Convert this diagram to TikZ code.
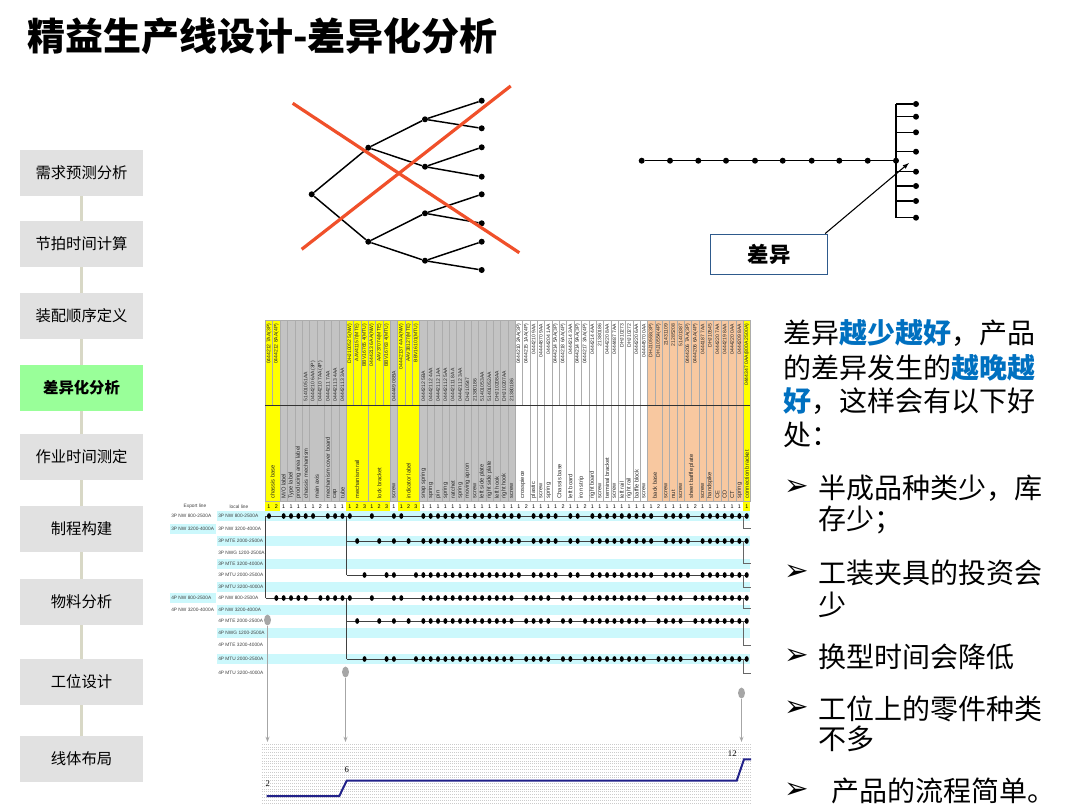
\documentclass[tikz,border=0pt]{standalone}
\usepackage{fontspec}
\setmainfont{Noto Sans CJK SC}
\newfontfamily\lat{Liberation Sans}
\newfontfamily\ser{Liberation Serif}
\newfontfamily\dv{DejaVu Sans}
\usetikzlibrary{arrows.meta,shapes.geometric}
\definecolor{sidegray}{HTML}{E1E1E1}
\definecolor{sideline}{HTML}{D8D8C6}
\definecolor{sidegreen}{HTML}{99FF99}
\definecolor{boxblue}{HTML}{2E5A8C}
\definecolor{txtblue}{HTML}{0070C0}
\definecolor{xred}{HTML}{F0502A}
\definecolor{hy}{HTML}{FFFF00}
\definecolor{hg}{HTML}{C3C3C3}
\definecolor{hw}{HTML}{FFFFFF}
\definecolor{ho}{HTML}{F8C8A0}
\definecolor{cy}{HTML}{CCF8FC}
\definecolor{navy}{HTML}{22228A}
\definecolor{pin}{HTML}{A6A6A6}
\def\TBx{265.3}
\def\TBw{7.35}
\newcommand\hlt[1]{{\bfseries\color{txtblue}#1}}
\newcommand\BOMrow[3]{\foreach \i in {#3}{\node[bomdot] (d#1-\i) at ({\TBx+(\i+0.5)*\TBw},#2) {};}}
\def\cmn{21,22,23,24,25,26,27,28,29,30,31,32,33}
\def\pA{34,36,37,38,39,41,42,44,45,46,47,48,49,50,51,52,54,55,56,57,59,60,61,62,63,64,65}
\def\pB{35,36,37,38,40,41,43,44,45,46,47,48,49,50,51,53,54,55,56,58,59,60,61,62,63,64,65}
\def\preNWa{0,2,3,4,5,6,8,9,10,11,14,17,18}
\def\preNWb{1,2,3,4,5,7,8,9,10,11,14,17,18}
\def\preMTE{12,15,17,19}
\def\preMTU{13,16,17,20}
\tikzset{
  sidebox/.style={fill=sidegray, minimum width=92.25pt, minimum height=34.5pt, inner sep=0pt, font=\fontsize{11.5}{12}\selectfont},
  sideact/.style={sidebox, fill=sidegreen, font=\fontsize{11.5}{12}\selectfont\bfseries},
  sidelink/.style={draw=sideline, line width=2.2pt},
  tdot/.style={circle, fill=black, inner sep=0pt, minimum size=4.5pt},
  treeline/.style={line width=1.1pt, draw=black},
  redx/.style={line width=2.4pt, draw=xred},
  diffbox/.style={draw=boxblue, line width=1.1pt, fill=white, minimum width=87.5pt, minimum height=30pt, inner sep=0pt, font=\fontsize{16}{16}\selectfont\bfseries},
  callout/.style={line width=0.8pt, draw=black, -{Latex[length=5pt,width=3.5pt]}},
  colline/.style={draw=gray!65, line width=0.25pt},
  rulel/.style={draw=gray!40!black, line width=0.45pt},
  pnum/.style={rotate=90, inner sep=0.3pt, font=\fontsize{3.8}{3.8}\selectfont\lat, text=black!85},
  pname/.style={rotate=90, anchor=west, inner sep=0.3pt, font=\fontsize{4.3}{4.3}\selectfont\lat, text=black!85},
  idx/.style={inner sep=0pt, font=\fontsize{4}{4}\selectfont\lat},
  rowlbl/.style={anchor=west, inner sep=0pt, font=\fontsize{3.6}{3.6}\selectfont\lat, text=black!75},
  bomdot/.style={ellipse, fill=black, inner sep=0pt, minimum width=3pt, minimum height=4.3pt},
  flow/.style={draw=black!75, line width=0.6pt},
  pinhead/.style={ellipse, fill=pin, inner sep=0pt, minimum width=5.2pt, minimum height=8.2pt},
  pinline/.style={draw=pin, line width=0.8pt, -{Stealth[length=4pt,width=3pt]}},
  gridl/.style={draw=gray!40, line width=0.35pt, dash pattern=on 0.75pt off 0.75pt},
  navyline/.style={draw=navy, line width=1.5pt},
  chartlbl/.style={inner sep=0pt, font=\fontsize{6.5}{6.5}\selectfont\ser},
  rtxt/.style={anchor=west, inner sep=0pt, font=\fontsize{21}{21}\selectfont},
  bul/.style={anchor=west, inner sep=0pt, font=\fontsize{22}{22}\selectfont\dv},
}
\begin{document}
\begin{tikzpicture}[x=0.75pt,y=-0.75pt]
\fill[white] (0,0) rectangle (1080,807);
\useasboundingbox (0,0) rectangle (1080,807);

% ---------- title ----------
\node[anchor=west, inner sep=0pt, font=\fontsize{28.5}{28.5}\selectfont\bfseries] (title) at (27,36) {精益生产线设计-差异化分析};

% ---------- sidebar ----------
\node[sidebox] (s1) at (81.5,173) {需求预测分析};
\node[sidebox] (s2) at (81.5,244) {节拍时间计算};
\node[sidebox] (s3) at (81.5,316) {装配顺序定义};
\node[sideact] (s4) at (81.5,388) {差异化分析};
\node[sidebox] (s5) at (81.5,457) {作业时间测定};
\node[sidebox] (s6) at (81.5,529) {制程构建};
\node[sidebox] (s7) at (81.5,602) {物料分析};
\node[sidebox] (s8) at (81.5,682) {工位设计};
\node[sidebox] (s9) at (81.5,759) {线体布局};
\foreach \a/\b in {s1/s2,s2/s3,s3/s4,s4/s5,s5/s6,s6/s7,s7/s8,s8/s9}
  \draw[sidelink] (\a.south) -- (\b.north);

% ---------- left tree ----------
\node[tdot] (r) at (311.7,194.3) {};
\node[tdot] (a) at (368.3,147.7) {};
\node[tdot] (b) at (368.3,241.7) {};
\node[tdot] (a1) at (425,119.3) {};
\node[tdot] (a2) at (425,166.7) {};
\node[tdot] (b1) at (425,213.3) {};
\node[tdot] (b2) at (425,260.7) {};
\foreach \i/\y in {1/100.7,2/128.3,3/147.3,4/176.7,5/194.3,6/223.3,7/241.7,8/270}
  \node[tdot] (lv\i) at (481.7,\y) {};
\draw[treeline] (a) -- (r) -- (b);
\draw[treeline] (a1) -- (a) -- (a2);
\draw[treeline] (b1) -- (b) -- (b2);
\draw[treeline] (lv1) -- (a1) -- (lv2);
\draw[treeline] (lv3) -- (a2) -- (lv4);
\draw[treeline] (lv5) -- (b1) -- (lv6);
\draw[treeline] (lv7) -- (b2) -- (lv8);
\coordinate (xa1) at (292.7,103.3);
\coordinate (xa2) at (519.3,252.7);
\coordinate (xb1) at (301.7,249.3);
\coordinate (xb2) at (510.7,86);
\draw[redx] (xa1) -- (xa2);
\draw[redx] (xb1) -- (xb2);

% ---------- right tree ----------
\foreach \i/\x in {1/641.7,2/670,3/698.3,4/726,5/755,6/782.7,7/811.7,8/839.3,9/867.7,10/896}
  \node[tdot] (h\i) at (\x,160.7) {};
\draw[treeline] (h1) -- (h10);
\coordinate (vt) at (896,104);
\coordinate (vb) at (896,217.7);
\draw[treeline] (vt) -- (vb);
\foreach \i/\y in {1/104,2/116.7,3/132.3,4/151.7,5/171.7,6/186,7/201,8/217.7}{
  \coordinate (bj\i) at (896,\y);
  \node[tdot] (lf\i) at (916,\y) {};
  \draw[treeline] (bj\i) -- (lf\i);
}
\node[diffbox] (diff) at (769,254.3) {差异};
\coordinate (ctip) at (909.3,162.7);
\draw[callout] ([xshift=-2.2pt]diff.north east) -- (ctip);

% ---------- table header ----------
\foreach \s/\n/\c/\nc/\nm in {
 0/2/hy/hy/chassis base, 2/1/hg/hw/{M/O label}, 3/1/hg/hw/Type label, 4/1/hg/hw/producing area label,
 5/1/hg/hw/chassis mechanism, 6/2/hg/hw/main axis, 8/1/hg/hw/mechanism cover board, 9/1/hg/hw/cap,
 10/1/hg/hw/tube, 11/3/hy/hy/mechanism rail, 14/3/hy/hy/lock bracket, 17/1/hg/hw/screw,
 18/3/hy/hy/indicator label, 21/1/hg/hw/snap spring, 22/1/hg/hw/spring, 23/1/hg/hw/pin,
 24/1/hg/hw/spring, 25/1/hg/hw/ratchet, 26/1/hg/hw/spring, 27/1/hg/hw/moving apron,
 28/1/hg/hw/screw, 29/1/hg/hw/left side plate, 30/1/hg/hw/right side plate, 31/1/hg/hw/left hook,
 32/1/hg/hw/right hook, 33/1/hg/hw/screw, 34/2/hw/hw/crosspiece, 36/1/hw/hw/plastic,
 37/1/hw/hw/screw, 38/1/hw/hw/spring, 39/2/hw/hw/Chassis base, 41/1/hw/hw/left board,
 42/2/hw/hw/iron strip, 44/1/hw/hw/right board, 45/1/hw/hw/screw, 46/1/hw/hw/terminal bracket,
 47/1/hw/hw/screw, 48/1/hw/hw/left rail, 49/1/hw/hw/right rail, 50/1/hw/hw/baffle block,
 51/1/hw/hw/screw, 52/2/ho/hw/back base, 54/1/ho/hw/screw, 55/1/ho/hw/nut, 56/1/ho/hw/screw,
 57/2/ho/hw/sheet baffle plate, 59/1/ho/hw/screw, 60/1/ho/hw/handspike, 61/1/ho/hw/CE,
 62/1/ho/hw/CD, 63/1/ho/hw/CT, 64/1/ho/hw/spring, 65/1/hy/hy/connection bracket}{
  \pgfmathsetmacro\xa{\TBx+\s*\TBw}
  \pgfmathsetmacro\xb{\TBx+(\s+\n)*\TBw}
  \pgfmathsetmacro\xm{\TBx+(\s+\n/2)*\TBw}
  \fill[\c] (\xa,320) rectangle (\xb,501.5);
  \draw[colline] (\xa,405) -- (\xa,501.5);
  \node[pname] (nm\s) at (\xm,499) {\nm};
  \foreach \k in {1,...,\n}{
    \pgfmathsetmacro\xl{\TBx+(\s+\k-1)*\TBw}
    \pgfmathsetmacro\xr{\xl+\TBw}
    \pgfmathsetmacro\xk{\xl+\TBw/2}
    \fill[\nc] (\xl,501.5) rectangle (\xr,511);
    \node[idx] (no\s-\k) at (\xk,506.3) {\k};
  }
}
\foreach \i in {0,...,66}
  \draw[colline] ({\TBx+\i*\TBw},320) -- ({\TBx+\i*\TBw},405);
\draw[colline] (750.4,405) -- (750.4,501.5);
\draw[colline] (\TBx,320) -- (750.4,320);
\draw[rulel] (\TBx,405) -- (750.4,405);
\draw[colline] (\TBx,501.5) -- (750.4,501.5);

% part numbers, bottom aligned
\foreach \i/\pn in {5/51401051AA, 6/0444210 6AA(3P), 7/0444210 7AA(4P), 8/0444211 7AA,
 9/04442113 4AA, 10/04442113 3AA, 17/044449 08BA, 21/0444212 5BA, 22/04442112 4AA,
 23/04442112 1AA, 24/04442112 5AA, 25/04442111 8AA, 26/04442112 3AA, 27/DHJ10547,
 28/21380186, 29/51401053AA, 30/51401052AA, 31/DHJ10208AA, 32/DHJ10207AA, 33/21380186}
  \node[pnum, anchor=west] (pn\i) at ({\TBx+(\i+0.5)*\TBw},402) {\pn};
% part numbers, top aligned
\foreach \i/\pn in {0/0444212 7AA(3P), 1/0444212 8AA(4P), 11/DHJ10052 5(NW), 12/AAV41157(MTE),
 13/BBV16765 4(MTU), 14/0444213 6AA(NW), 15/AAV37074(MTE), 16/BBV16763 4(MTU),
 18/04442137 4AA(NW), 19/AAV38127(MTE), 20/BBV16101(MTU), 34/0444210 2AA(3P),
 35/0444215 1AA(4P), 36/0444210 9AA, 37/04444870 9AA, 38/0444204 1AA, 39/0444214 5AA(3P),
 40/0444218 6AA(4P), 41/0444214 3AA, 42/0444214 9AA(3P), 43/0444217 3AA(4P), 44/0444214 4AA,
 45/21380186, 46/0444220 8AA, 47/0444487 7AA, 48/DHJ10273, 49/DHJ10272, 50/0444220 6AA,
 51/04444570 0AA, 52/DHJ10553(3P), 53/DHJ10554(4P), 54/21431109, 55/21285208, 56/51401387,
 57/0444206 7AA(3P), 58/0444206 6AA(4P), 59/0444187 7AA, 60/DHJ10545, 61/0444220 7AA,
 62/0444219 8AA, 63/0444220 0AA, 64/0444209 8AA, 65/0444347 0AA(800A 2500A)}
  \node[pnum, anchor=east] (pn\i) at ({\TBx+(\i+0.5)*\TBw},323) {\pn};

% ---------- row labels and stripes ----------
\node[inner sep=0pt, font=\fontsize{3.6}{3.6}\selectfont\lat, text=black!75] (exh) at (195,506.5) {Export line};
\node[inner sep=0pt, font=\fontsize{3.6}{3.6}\selectfont\lat, text=black!75] (loh) at (239,506.5) {local line};
\foreach \y in {516,541,564,587,610,633,659}
  \fill[cy] (217,{\y-5}) rectangle (750.4,{\y+5});
\fill[cy] (170,524) rectangle (216,534);
\fill[cy] (170,593) rectangle (216,603);
\foreach \j/\y/\t in {0/516/3P NW 800-2500A, 1/529/3P NW 3200-4000A, 2/541/3P MTE 2000-2500A,
 3/553/3P NWG 1200-2500A, 4/564/3P MTE 3200-4000A, 5/575/3P MTU 2000-2500A,
 6/587/3P MTU 3200-4000A, 7/598/4P NW 800-2500A, 8/610/4P NW 3200-4000A,
 9/621/4P MTE 2000-2500A, 10/633/4P NWG 1200-2500A, 11/645/4P MTE 3200-4000A,
 12/659/4P MTU 2000-2500A, 13/673/4P MTU 3200-4000A}
  \node[rowlbl] (ll\j) at (218,\y) {\t};
\node[rowlbl] (ex0) at (171,516) {3P NW 800-2500A};
\node[rowlbl] (ex1) at (171,529) {3P NW 3200-4000A};
\node[rowlbl] (ex7) at (171,598) {4P NW 800-2500A};
\node[rowlbl] (ex8) at (171,610) {4P NW 3200-4000A};

% ---------- flow lines ----------
\coordinate (tL0) at (265.5,516);
\coordinate (tL7) at (265.5,598);
\foreach \r/\y in {0/516,2/541,5/575,7/598,9/621,12/659}{
  \coordinate (e\r) at (746.7,\y);
  \coordinate (br\r) at (346.5,\y);
}
\draw[flow] (tL0) -- (tL7);
\draw[flow] (tL0) -- (e0);
\draw[flow] (tL7) -- (e7);
\draw[flow] (br0) -- (br5);
\draw[flow] (br7) -- (br12);
\foreach \r in {2,5,9,12}
  \draw[flow] (br\r) -- (e\r);
\foreach \r/\y/\yh in {0/516/528,2/541/563,5/575/587,7/598/608,9/621/645,12/659/673}{
  \coordinate (hka\r) at (743.3,\y);
  \coordinate (hkb\r) at (751,\yh);
  \draw[flow, draw=black!60] (hka\r) |- (hkb\r);
}

% ---------- dots ----------
\edef\tmp{\noexpand\BOMrow{a}{516}{\preNWa,\cmn,\pA}}\tmp
\edef\tmp{\noexpand\BOMrow{b}{541}{\preMTE,\cmn,\pA}}\tmp
\edef\tmp{\noexpand\BOMrow{c}{575}{\preMTU,\cmn,\pA}}\tmp
\edef\tmp{\noexpand\BOMrow{d}{598}{\preNWb,\cmn,\pB}}\tmp
\edef\tmp{\noexpand\BOMrow{e}{621}{\preMTE,\cmn,\pB}}\tmp
\edef\tmp{\noexpand\BOMrow{f}{659}{\preMTU,\cmn,\pB}}\tmp

% ---------- chart ----------
\foreach \k in {0,...,21}
  \draw[gridl] (262,{744+2.8*\k}) -- (752,{744+2.8*\k});
\coordinate (c0) at (266.7,796);
\coordinate (c1) at (339.3,796);
\coordinate (c2) at (346.7,780.7);
\coordinate (c3) at (736.7,780.7);
\coordinate (c4) at (744,759.3);
\coordinate (c5) at (751,759.3);
\draw[navyline] (c0) -- (c1) -- (c2) -- (c3) -- (c4) -- (c5);
\node[chartlbl] (v2) at (267.7,784) {2};
\node[chartlbl] (v6) at (346.7,769.3) {6};
\node[chartlbl] (v12) at (732.3,754) {12};

% ---------- pins ----------
\node[pinhead] (p1) at (267.5,620) {};
\node[pinhead] (p2) at (345.5,672) {};
\node[pinhead] (p3) at (741.5,693) {};
\coordinate (p1e) at (267.5,742);
\coordinate (p2e) at (345.5,742);
\coordinate (p3e) at (741.5,742);
\draw[pinline] (p1.south) -- (p1e);
\draw[pinline] (p2.south) -- (p2e);
\draw[pinline] (p3.south) -- (p3e);

% ---------- right text ----------
\node[rtxt] (t1) at (783,333) {差异\hlt{越少越好}，产品};
\node[rtxt] (t2) at (783,368) {的差异发生的\hlt{越晚越}};
\node[rtxt] (t3) at (783,401) {\hlt{好}，这样会有以下好};
\node[rtxt] (t4) at (783,435) {处：};
\node[bul] (u1) at (784,488) {➢};
\node[rtxt] (q1) at (818,488) {半成品种类少，库};
\node[rtxt] (q1b) at (818,520) {存少；};
\node[bul] (u2) at (784,573) {➢};
\node[rtxt] (q2) at (818,573) {工装夹具的投资会};
\node[rtxt] (q2b) at (818,605) {少};
\node[bul] (u3) at (784,657) {➢};
\node[rtxt] (q3) at (818,657) {换型时间会降低};
\node[bul] (u4) at (784,709) {➢};
\node[rtxt] (q4) at (818,709) {工位上的零件种类};
\node[rtxt] (q4b) at (818,739) {不多};
\node[bul] (u5) at (784,791) {➢};
\node[rtxt] (q5) at (831,791) {产品的流程简单。};
\end{tikzpicture}
\end{document}
